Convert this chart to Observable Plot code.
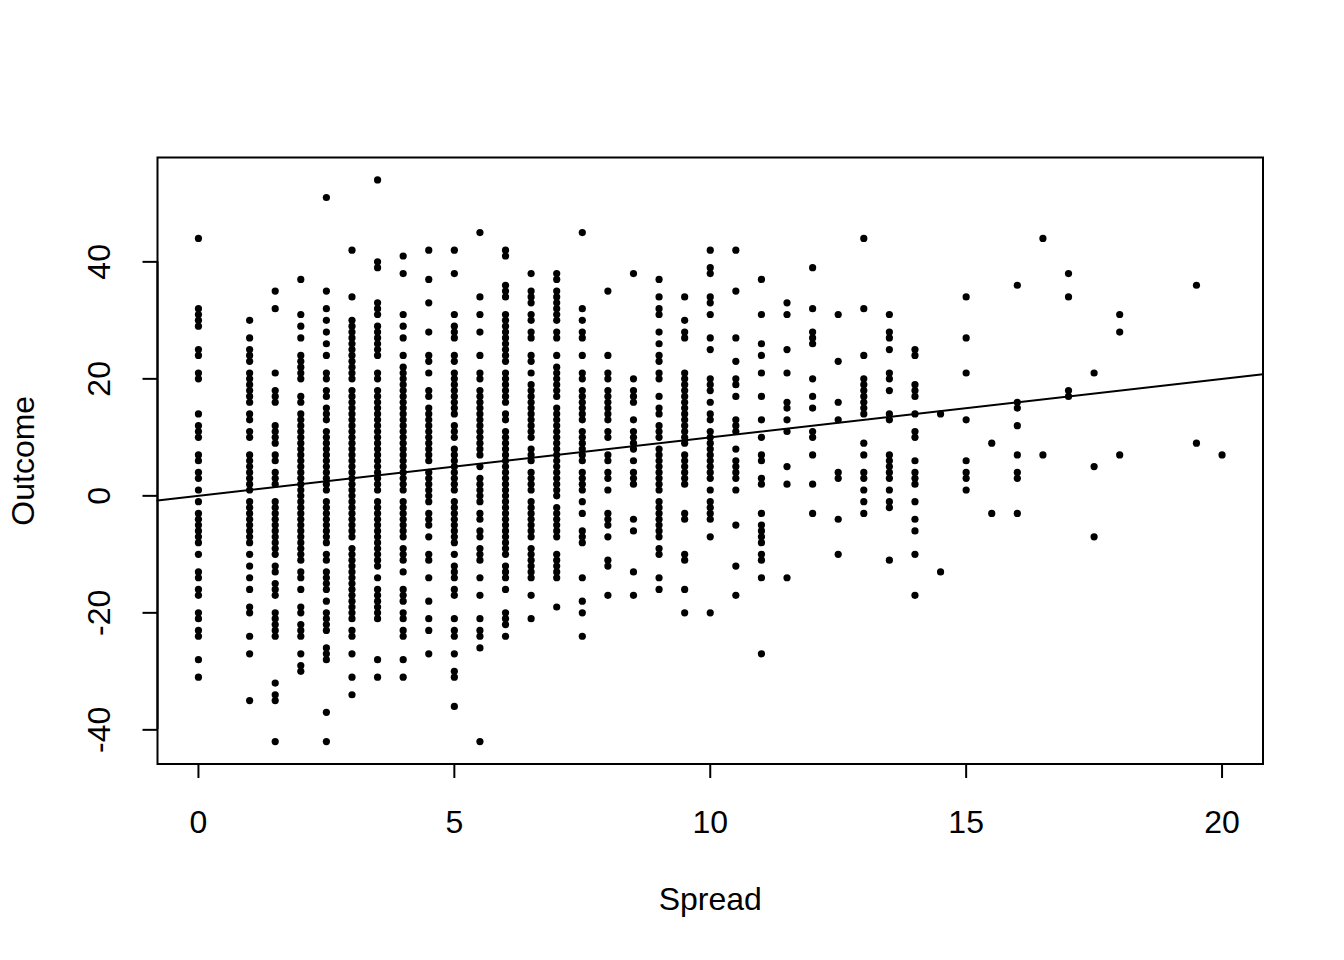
<!DOCTYPE html>
<html>
<head>
<meta charset="utf-8">
<script src="https://cdn.jsdelivr.net/npm/d3@7"></script>
<script src="https://cdn.jsdelivr.net/npm/@observablehq/plot@0.6"></script>
<style>
html,body{margin:0;padding:0;background:#fff}
svg{display:block}
</style>
</head>
<body>
<div id="chart"></div>
<script>
const spreads = [0,1,1.5,2,2.5,3,3.5,4,4.5,5,5.5,6,6.5,7,7.5,8,8.5,9,9.5,10,10.5,11,11.5,12,12.5,13,13.5,14,14.5,15,15.5,16,16.5,17,17.5,18,19.5,20];
const outcomes = [
/*0*/ [44,32,31,30,29,25,24,21,20,14,12,11,10,7,6,4,3,1,-1,-3,-4,-5,-6,-7,-8,-10,-13,-14,-16,-17,-20,-21,-23,-24,-28,-31],
/*1*/ [30,27,25,24,23,21,20,19,18,17,16,14,13,11,10,7,6,5,4,3,2,1,-1,-2,-3,-4,-5,-6,-7,-8,-10,-12,-14,-16,-19,-20,-24,-27,-35],
/*1.5*/ [35,32,21,18,17,16,12,11,10,9,7,6,4,3,2,-1,-2,-3,-4,-5,-6,-7,-8,-9,-10,-12,-13,-15,-16,-17,-20,-21,-22,-23,-24,-32,-34,-35,-42],
/*2*/ [37,31,29,27,24,23,22,21,20,17,16,14,13,12,11,10,9,8,7,6,5,4,3,2,1,0,-1,-2,-3,-4,-5,-6,-7,-8,-9,-10,-11,-13,-14,-16,-19,-20,-22,-23,-24,-27,-29,-30],
/*2.5*/ [51,35,32,30,28,26,24,21,20,18,17,15,14,13,11,10,9,8,7,6,5,4,3,2,1,-1,-2,-3,-4,-5,-6,-7,-8,-10,-11,-13,-14,-15,-16,-18,-20,-21,-22,-23,-26,-27,-28,-37,-42],
/*3*/ [42,34,30,29,28,27,26,25,24,23,22,21,20,18,17,16,15,14,13,12,11,10,9,8,7,6,5,4,3,2,1,0,-1,-2,-3,-4,-5,-6,-7,-9,-10,-11,-12,-13,-14,-15,-16,-17,-18,-19,-20,-21,-23,-24,-27,-31,-34],
/*3.5*/ [54,40,39,33,32,31,29,28,27,26,25,24,21,20,18,17,16,15,14,13,12,11,10,9,8,7,6,5,4,3,2,1,-1,-2,-3,-4,-5,-6,-7,-8,-9,-10,-11,-12,-14,-16,-17,-18,-19,-20,-21,-28,-31],
/*4*/ [41,38,31,29,27,24,22,21,20,19,18,17,16,15,14,13,12,11,10,9,8,7,6,5,4,3,2,1,-1,-2,-3,-4,-5,-6,-7,-9,-10,-11,-13,-16,-17,-18,-20,-21,-23,-24,-28,-31],
/*4.5*/ [42,37,33,28,24,23,21,18,17,15,14,13,12,11,10,9,8,7,6,4,3,2,1,0,-1,-3,-4,-5,-7,-10,-11,-14,-18,-21,-23,-27],
/*5*/ [42,38,31,29,28,27,24,23,21,20,19,18,17,16,15,14,12,11,10,8,7,6,5,4,3,2,1,-1,-2,-3,-4,-5,-6,-7,-8,-10,-12,-13,-14,-16,-17,-21,-23,-24,-27,-30,-31,-36],
/*5.5*/ [45,34,31,28,24,21,20,18,17,16,15,14,13,12,11,10,9,8,7,5,3,2,1,0,-1,-3,-4,-6,-7,-9,-10,-11,-14,-17,-21,-23,-24,-26,-42],
/*6*/ [42,41,36,35,34,31,30,29,28,27,26,25,24,23,21,20,19,18,17,16,14,13,11,10,9,8,7,6,5,4,3,2,1,0,-1,-2,-3,-4,-5,-6,-7,-8,-9,-10,-12,-13,-14,-16,-20,-21,-22,-24],
/*6.5*/ [38,35,34,33,31,30,28,27,24,23,21,19,18,17,16,15,14,13,12,11,10,8,7,6,4,3,2,1,-1,-2,-3,-4,-5,-6,-7,-9,-10,-11,-12,-13,-14,-17,-21],
/*7*/ [38,37,35,34,33,32,31,30,28,27,24,22,21,20,19,18,17,15,14,13,12,11,10,9,8,7,6,5,4,3,2,1,0,-2,-3,-4,-5,-6,-7,-10,-11,-12,-13,-14,-19],
/*7.5*/ [45,32,30,28,27,24,21,20,18,17,16,15,14,13,11,10,9,8,7,6,4,3,2,1,-1,-3,-6,-7,-8,-14,-18,-20,-24],
/*8*/ [35,24,21,20,18,17,16,15,14,13,11,10,7,6,4,3,1,-3,-4,-5,-7,-11,-12,-17],
/*8.5*/ [38,20,18,17,16,13,11,10,9,8,6,4,3,2,-4,-6,-13,-17],
/*9*/ [37,34,32,31,28,26,24,23,21,20,17,15,14,12,11,10,8,7,6,5,4,3,2,1,-1,-2,-3,-4,-5,-6,-7,-9,-10,-14,-16],
/*9.5*/ [34,30,28,27,21,20,19,18,17,16,15,14,13,12,11,10,9,7,6,5,4,3,2,-3,-4,-10,-11,-16,-20],
/*10*/ [42,39,38,34,33,31,27,25,20,19,18,16,14,13,11,10,9,8,7,6,5,4,3,1,-1,-2,-3,-4,-7,-20],
/*10.5*/ [42,35,27,23,20,19,17,13,12,11,8,6,5,4,3,1,-5,-12,-17],
/*11*/ [37,31,26,24,21,17,13,10,7,6,3,2,-3,-5,-6,-7,-8,-10,-11,-14,-27],
/*11.5*/ [33,31,25,21,16,15,13,11,5,2,-14],
/*12*/ [39,32,28,27,26,20,17,15,11,10,7,2,-3],
/*12.5*/ [31,23,16,13,4,3,-4,-10],
/*13*/ [44,32,24,20,19,18,17,16,15,14,9,7,4,3,1,-1,-3],
/*13.5*/ [31,28,27,25,21,20,18,14,13,7,6,5,4,3,1,-1,-2,-11],
/*14*/ [25,24,19,18,17,14,11,10,6,4,3,2,-1,-4,-6,-10,-17],
/*14.5*/ [14,-13],
/*15*/ [34,27,21,13,6,4,3,1],
/*15.5*/ [9,-3],
/*16*/ [36,16,15,12,7,4,3,-3],
/*16.5*/ [44,7],
/*17*/ [38,34,18,17],
/*17.5*/ [21,5,-7],
/*18*/ [31,28,7],
/*19.5*/ [36,9],
/*20*/ [7]
];
const xTicks = [0,5,10,15,20];
const yTicks = [-40,-20,0,20,40];
const xDomain = [-0.8,20.8];
const yDomain = [-45.84,57.84];
const fitX = xDomain;
const fitY = xDomain;

const points = spreads.flatMap((s,i)=>outcomes[i].map(o=>({spread:s,outcome:o})));
const font = '"Liberation Sans", Arial, sans-serif';
const sw = 2;

const chart = Plot.plot({
  width:1344,height:960,
  marginLeft:157,marginRight:81.5,marginTop:157,marginBottom:196.5,
  style:{background:"#fff",fontFamily:font,color:"#000",overflow:"visible"},
  x:{domain:xDomain,range:[157,1262.5]},
  y:{domain:yDomain,range:[763.5,157]},
  marks:[
    Plot.dot(points,{x:"spread",y:"outcome",r:3.6,fill:"#000",stroke:"none"}),
    Plot.line(fitX.map((x,i)=>({x,y:fitY[i]})),{x:"x",y:"y",stroke:"#000",strokeWidth:sw}),
    Plot.frame({stroke:"#000",strokeWidth:sw}),
    Plot.ruleY([yDomain[0]],{x1:xTicks[0],x2:xTicks[xTicks.length-1],stroke:"#000",strokeWidth:sw}),
    Plot.ruleX([xDomain[0]],{y1:yTicks[0],y2:yTicks[yTicks.length-1],stroke:"#000",strokeWidth:sw}),
    Plot.axisX(xTicks,{anchor:"bottom",tickSize:14.5,tickPadding:44,fontSize:32,strokeWidth:sw,label:null,tickFormat:d=>String(d),lineAnchor:"middle"}),
    Plot.axisY(yTicks,{anchor:"left",tickSize:14.5,tickPadding:43,fontSize:32,strokeWidth:sw,label:null,tickRotate:-90,tickFormat:d=>String(d),textAnchor:"middle",lineAnchor:"middle"}),
    Plot.text(["Spread"],{frameAnchor:"bottom",dy:135.5,fontSize:32,fill:"#000",lineAnchor:"middle"}),
    Plot.text(["Outcome"],{frameAnchor:"left",dx:-134,rotate:-90,fontSize:32,fill:"#000",lineAnchor:"middle",textAnchor:"middle"})
  ]
});
document.getElementById("chart").appendChild(chart);
</script>
</body>
</html>
